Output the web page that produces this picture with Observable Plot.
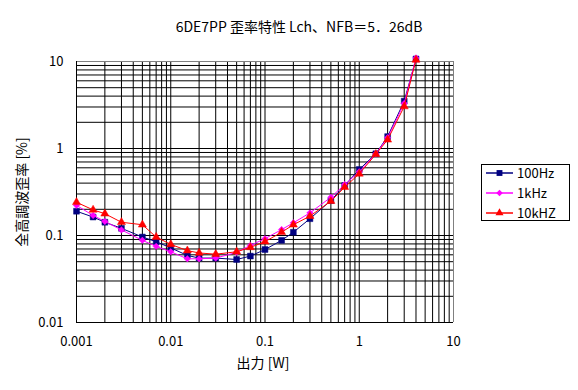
<!DOCTYPE html>
<html>
<head>
<meta charset="utf-8">
<script src="https://cdn.jsdelivr.net/npm/d3@7"></script>
<script src="https://cdn.jsdelivr.net/npm/@observablehq/plot@0.6"></script>
<style>
  html, body { margin: 0; padding: 0; background: #fff; }
  #wrap { position: relative; width: 578px; height: 390px; overflow: hidden; font-family: "Noto Sans CJK JP", "DejaVu Sans", sans-serif; }
  #legend { position: absolute; left: 481px; top: 164px; width: 89px; height: 57px; border: 1px solid #000; background: #fff; box-sizing: border-box; }
  #legend svg { overflow: visible; display: block; }
</style>
</head>
<body>
<div id="wrap"><div id="chart"></div><div id="legend"></div></div>
<script>
const title = "6DE7PP 歪率特性 Lch、NFB＝5．26dB";
const xLabel = "出力 [W]";
const yLabel = "全高調波歪率 [%]";
const seriesNames = ["100Hz", "1kHz", "10kHZ"];
const seriesColors = ["#000080", "#FF00FF", "#FF0000"];
const seriesSymbols = ["square", "diamond2", "triangle"];

const power = [0.001,0.0015,0.002,0.003,0.005,0.007,0.01,0.015,0.02,0.03,0.05,0.07,0.1,0.15,0.2,0.3,0.5,0.7,1,1.5,2,3,4];
const thd100Hz = [0.190,0.163,0.142,0.121,0.096,0.085,0.072,0.059,0.055,0.055,0.053,0.058,0.069,0.088,0.109,0.156,0.252,0.375,0.574,0.87,1.37,3.5,10.7];
const thd1kHz  = [0.222,0.170,0.145,0.116,0.088,0.075,0.065,0.054,0.054,0.055,0.064,0.077,0.092,0.117,0.140,0.182,0.275,0.385,0.54,0.87,1.33,3.3,11.0];
const thd10kHz = [0.241,0.197,0.178,0.142,0.133,0.096,0.079,0.067,0.063,0.061,0.065,0.073,0.085,0.109,0.133,0.167,0.248,0.359,0.512,0.86,1.26,3.04,10.45];

const xTicks = [0.001, 0.01, 0.1, 1, 10];
const yTicks = [0.01, 0.1, 1, 10];

const seriesValues = [thd100Hz, thd1kHz, thd10kHz];
const rows = [];
seriesValues.forEach((vals, si) => vals.forEach((v, i) => rows.push({series: seriesNames[si], x: power[i], y: v})));

// grid values: 1..9 per decade
const xGrid = [], yGrid = [];
for (let e = -3; e < 1; e++) for (let m = 1; m <= 9; m++) xGrid.push(+(m * Math.pow(10, e)).toPrecision(3));
for (let e = -2; e < 1; e++) for (let m = 1; m <= 9; m++) yGrid.push(+(m * Math.pow(10, e)).toPrecision(3));

const font = '"Noto Sans CJK JP", "DejaVu Sans", sans-serif';
const dotR = [3.3, 2.9, 3.0];

const marks = [
  Plot.ruleX(xGrid, {stroke: "#000", strokeWidth: 1}),
  Plot.ruleY(yGrid, {stroke: "#000", strokeWidth: 1}),
  Plot.ruleY([10], {stroke: "#808080", strokeWidth: 1}),
  Plot.ruleX([10], {stroke: "#808080", strokeWidth: 1}),
  Plot.ruleX([0.001], {stroke: "#000", strokeWidth: 1}),
  Plot.ruleY([0.01], {stroke: "#000", strokeWidth: 1}),
  Plot.axisX(xTicks, {tickSize: 0, tickPadding: 14, tickFormat: d => String(d), fontSize: 13, fill: "#000", label: null}),
  Plot.axisY(yTicks, {tickSize: 0, tickPadding: 13, tickFormat: d => String(d), fontSize: 13, fill: "#000", label: null})
];
seriesNames.forEach((name, si) => {
  const data = rows.filter(r => r.series === name);
  marks.push(Plot.line(data, {x: "x", y: "y", stroke: seriesColors[si], strokeWidth: 1}));
  marks.push(Plot.dot(data, {x: "x", y: "y", fill: seriesColors[si], stroke: seriesColors[si], strokeWidth: 0.5, symbol: () => seriesSymbols[si], r: dotR[si]}));
});
marks.push(Plot.text([title], {frameAnchor: "top", textAnchor: "middle", dx: 34, dy: -39, fontSize: 14, fill: "#000", letterSpacing: 0.5}));
marks.push(Plot.text([xLabel], {frameAnchor: "bottom", textAnchor: "middle", dx: -2, dy: 45, fontSize: 14, fill: "#000", letterSpacing: 1}));
marks.push(Plot.text([yLabel], {frameAnchor: "left", textAnchor: "middle", dx: -54, rotate: -90, fontSize: 14, fill: "#000", letterSpacing: 1}));

const chart = Plot.plot({
  width: 578,
  height: 390,
  marginLeft: 76,
  marginRight: 125,
  marginTop: 61,
  marginBottom: 68,
  style: {fontFamily: font, background: "#fff", color: "#000"},
  x: {type: "log", domain: [0.001, 10], label: null},
  y: {type: "log", domain: [0.01, 10], label: null},
  marks
});
document.getElementById("chart").appendChild(chart);

// legend
const ns = "http://www.w3.org/2000/svg";
const lsvg = document.createElementNS(ns, "svg");
lsvg.setAttribute("width", 87); lsvg.setAttribute("height", 55);
const symGen = [d3.symbolSquare, d3.symbolDiamond2, d3.symbolTriangle];
seriesNames.forEach((name, i) => {
  const cy = 8 + i * 20;
  const ln = document.createElementNS(ns, "line");
  ln.setAttribute("x1", 4); ln.setAttribute("x2", 31); ln.setAttribute("y1", cy); ln.setAttribute("y2", cy);
  ln.setAttribute("stroke", seriesColors[i]); ln.setAttribute("stroke-width", 1.5);
  lsvg.appendChild(ln);
  const p = document.createElementNS(ns, "path");
  p.setAttribute("d", d3.symbol(symGen[i], Math.PI * dotR[i] * dotR[i])());
  p.setAttribute("transform", `translate(17.5,${cy})`);
  p.setAttribute("fill", seriesColors[i]);
  lsvg.appendChild(p);
  const t = document.createElementNS(ns, "text");
  t.setAttribute("x", 35); t.setAttribute("y", cy); t.setAttribute("dy", "0.35em");
  t.setAttribute("font-size", 13); t.setAttribute("font-family", font);
  t.textContent = name;
  lsvg.appendChild(t);
});
document.getElementById("legend").appendChild(lsvg);
</script>
</body>
</html>
